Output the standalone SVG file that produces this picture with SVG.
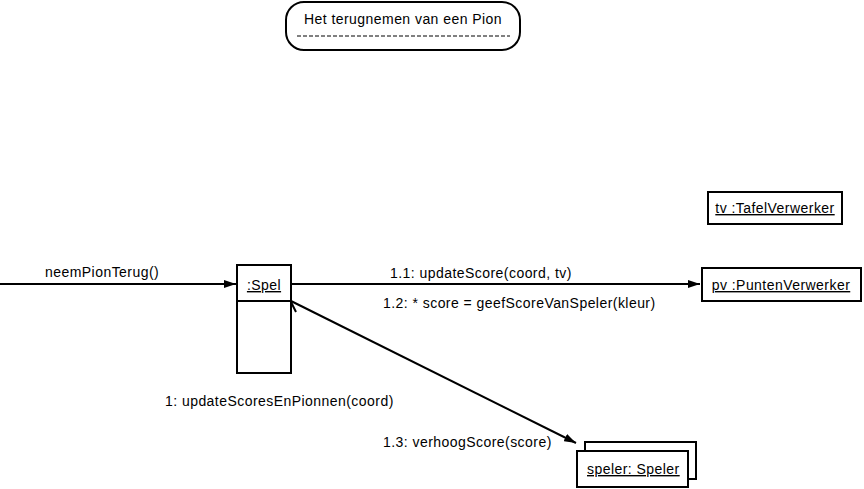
<svg xmlns="http://www.w3.org/2000/svg" width="864" height="489" viewBox="0 0 864 489">
<style>
text{font-family:"Liberation Sans",Arial,sans-serif;font-size:14px;letter-spacing:0.45px;fill:#000}
.box{fill:#fff;stroke:#000;stroke-width:2}
.ln{stroke:#000;stroke-width:2;fill:none}
.u{text-decoration:underline}
</style>
<defs>
<marker id="fa" markerWidth="12" markerHeight="8" refX="12" refY="4" orient="auto" markerUnits="userSpaceOnUse">
<path d="M0,0 L12,4 L0,8 Z" fill="#000"/>
</marker>
</defs>
<rect width="864" height="489" fill="#fff"/>
<g id="title">
<rect x="286" y="2" width="234" height="48" rx="18" ry="18" class="box"/>
<text x="403" y="24" text-anchor="middle">Het terugnemen van een Pion</text>
<line x1="297" y1="36" x2="510" y2="36" stroke="#000" stroke-width="1" stroke-dasharray="4,2"/>
</g>
<g id="connectors">
<line x1="0" y1="284" x2="236" y2="284" class="ln" marker-end="url(#fa)"/>
<line x1="291" y1="284" x2="700" y2="284" class="ln" marker-end="url(#fa)"/>
<line x1="291" y1="301" x2="576" y2="443" class="ln" marker-end="url(#fa)"/>
<path d="M286,314 L291,302 L296,312" class="ln" stroke-width="1.5"/>
<text x="45" y="277">neemPionTerug()</text>
<text x="390" y="278">1.1: updateScore(coord, tv)</text>
<text x="383" y="308">1.2: * score = geefScoreVanSpeler(kleur)</text>
<text x="165" y="406">1: updateScoresEnPionnen(coord)</text>
<text x="383" y="447">1.3: verhoogScore(score)</text>
</g>
<g id="spel">
<rect x="237" y="265" width="54" height="108" class="box"/>
<line x1="237" y1="301" x2="291" y2="301" class="ln"/>
<text x="264" y="290" text-anchor="middle" class="u">:Spel</text>
</g>
<g id="tv">
<rect x="708" y="192" width="134" height="32" class="box"/>
<text x="775" y="213" text-anchor="middle" class="u">tv :TafelVerwerker</text>
</g>
<g id="pv">
<rect x="702" y="268" width="159" height="33" class="box"/>
<text x="781" y="290" text-anchor="middle" class="u">pv :PuntenVerwerker</text>
</g>
<g id="speler">
<rect x="585" y="442" width="111" height="37" class="box"/>
<rect x="577" y="451" width="111" height="36" class="box"/>
<text x="587" y="474" class="u">speler: Speler </text>
</g>
</svg>
